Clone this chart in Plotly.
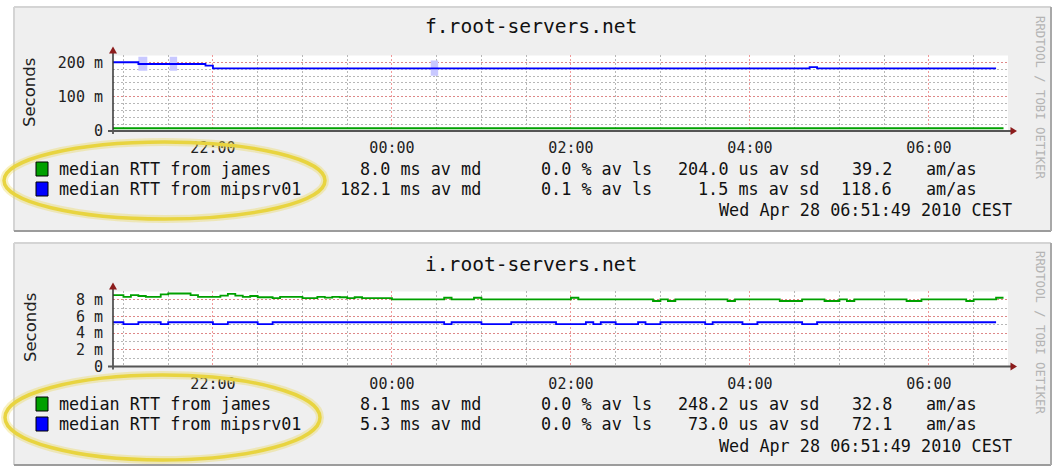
import plotly.graph_objects as go
import pandas as pd

W, H = 1057, 467

# ------------------------------------------------------------------ data
TITLES = ["f.root-servers.net", "i.root-servers.net"]
SERIES_NAMES = ["median RTT from james", "median RTT from mipsrv01"]
SERIES_COLORS = ["#00a000", "#0000ff"]
SMOKE_COLOR = "#c8c8ff"
Y_TITLE = "Seconds"
WATERMARK = "RRDTOOL / TOBI OETIKER"
STAMP = "Wed Apr 28 06:51:49 2010 CEST"
UNIT_LABEL = "am/as"

X_START = "2010-04-27 20:53"
X_END = "2010-04-28 06:53"
MAJOR_TICK0 = "2010-04-27 22:00"

# panel f.root-servers.net (values in ms)
f_james_t = ["20:53", "06:50"]
f_james_ms = [8.0, 8.0]
f_mips_t = ["20:53", "21:10", "21:55", "22:00", "04:40", "04:45", "06:45"]
f_mips_ms = [200, 195, 190, 182.5, 186, 182.5, 182.5]
f_smoke_start = ["21:10", "21:31", "00:26"]
f_smoke_end = ["21:16", "21:36", "00:31"]
f_smoke_lo = [175, 175, 161]
f_smoke_hi = [216, 216, 205]
f_yticks = [0, 100, 200]
f_yticklabels = ["0", "100 m", "200 m"]
f_yrange = [0, 220]
f_stats = [["8.0 ms av md", "0.0 % av ls", "204.0 us av sd", "39.2"],
           ["182.1 ms av md", "0.1 % av ls", "1.5 ms av sd", "118.6"]]

# panel i.root-servers.net (values in ms)
i_james_t = ["20:53", "21:00", "21:05", "21:10", "21:15", "21:25", "21:30", "21:45", "21:50",
             "22:05", "22:10", "22:15", "22:20", "22:25", "22:30", "22:40", "22:45", "23:00",
             "23:10", "23:15", "23:20", "23:25", "23:30", "23:35", "23:40", "00:00", "00:35",
             "00:40", "00:55", "01:00", "02:00", "02:05", "02:55", "03:00", "03:05", "03:10",
             "03:45", "03:50", "04:20", "04:35", "04:50", "05:00", "05:05", "05:10", "05:45",
             "05:55", "06:25", "06:30", "06:45", "06:50"]
i_james_ms = [8.55, 8.35, 8.55, 8.45, 8.35, 8.65, 8.75, 8.55, 8.35,
              8.50, 8.70, 8.50, 8.35, 8.45, 8.30, 8.20, 8.35, 8.20,
              8.35, 8.25, 8.35, 8.30, 8.20, 8.30, 8.20, 8.05, 8.24,
              8.05, 8.24, 8.05, 8.24, 8.05, 7.85, 8.05, 7.85, 8.05,
              7.85, 8.05, 7.85, 8.05, 7.85, 8.05, 7.85, 8.05, 7.85,
              8.05, 7.85, 8.05, 8.24, 8.24]
i_mips_t = ["20:53", "21:00", "21:10", "21:25", "21:30", "22:00", "22:10", "22:30", "22:40",
            "00:35", "00:40", "01:00", "01:20", "01:50", "02:10", "02:15", "02:20", "02:30",
            "02:45", "02:50", "03:00", "03:30", "03:35", "03:55", "04:05", "04:35", "04:45",
            "06:45"]
i_mips_ms = [5.3, 5.07, 5.3, 5.07, 5.3, 5.07, 5.3, 5.07, 5.3,
             5.07, 5.3, 5.07, 5.3, 5.07, 5.3, 5.07, 5.3, 5.07,
             5.3, 5.07, 5.3, 5.07, 5.3, 5.07, 5.3, 5.07, 5.3,
             5.3]
i_yticks = [0, 2, 4, 6, 8]
i_yticklabels = ["0", "2 m", "4 m", "6 m", "8 m"]
i_yrange = [0, 9]
i_stats = [["8.1 ms av md", "0.0 % av ls", "248.2 us av sd", "32.8"],
           ["5.3 ms av md", "0.0 % av ls", "73.0 us av sd", "72.1"]]

# ------------------------------------------------------------------ helpers
def fx(x):
    return x / W


def fy(y):
    return 1 - y / H


def tstamp(hm):
    h = int(hm.split(":")[0])
    day = "2010-04-27" if h >= 12 else "2010-04-28"
    return pd.Timestamp(f"{day} {hm}")


MONO = "DejaVu Sans Mono"
SANS = "DejaVu Sans"
RED_GRID = "rgba(235,120,120,0.75)"
GRAY_GRID = "rgba(175,175,175,0.9)"
ARROW = "#8c1c1c"
PLOT_L, PLOT_R = 113, 1008

panels = [
    dict(xa="x", ya="y", frame=(14, 7, 1051, 231), plot=(55.4, 131), title_y=27,
         ylab_y=93, wm_y=97, rows=(169, 189), stamp_y=210, ell=(4, 142, 325, 219),
         title=TITLES[0], stats=f_stats, yticks=f_yticks, ytl=f_yticklabels,
         yrange=f_yrange, yminor=20,
         series=[(f_james_t, f_james_ms), (f_mips_t, f_mips_ms)]),
    dict(xa="x2", ya="y2", frame=(14, 243, 1051, 465), plot=(291.4, 366.5), title_y=264,
         ylab_y=328, wm_y=332, rows=(404, 424), stamp_y=446, ell=(5, 375, 320, 460),
         title=TITLES[1], stats=i_stats, yticks=i_yticks, ytl=i_yticklabels,
         yrange=i_yrange, yminor=1,
         series=[(i_james_t, i_james_ms), (i_mips_t, i_mips_ms)]),
]

fig = go.Figure()

# smoke (f panel)
s0 = [tstamp(t) for t in f_smoke_start]
s1 = [tstamp(t) for t in f_smoke_end]
fig.add_trace(go.Bar(
    x=[a + (b - a) / 2 for a, b in zip(s0, s1)],
    y=[h - l for h, l in zip(f_smoke_hi, f_smoke_lo)],
    base=f_smoke_lo,
    width=[(b - a).total_seconds() * 1000 for a, b in zip(s0, s1)],
    marker=dict(color=SMOKE_COLOR, line=dict(width=0)),
    xaxis="x", yaxis="y", hoverinfo="skip", showlegend=False))

for p in panels:
    for (tt, vv), col, name in zip(p["series"], SERIES_COLORS, SERIES_NAMES):
        fig.add_trace(go.Scatter(
            x=[tstamp(t) for t in tt], y=vv, mode="lines", name=name,
            line=dict(color=col, width=1.8, shape="hv"),
            xaxis=p["xa"], yaxis=p["ya"], showlegend=False))

shapes = []
annotations = []


def text(x, y, s, size=16.8, xanchor="left", family=MONO, color="#111", angle=0):
    annotations.append(dict(x=fx(x), y=fy(y), xref="paper", yref="paper", text=s,
                            showarrow=False, xanchor=xanchor, yanchor="middle",
                            textangle=angle, borderpad=0,
                            font=dict(family=family, size=size, color=color)))


layout_axes = {}
for idx, p in enumerate(panels):
    x0, y0, x1, y1 = p["frame"]
    # panel background & 3-D frame
    shapes.append(dict(type="rect", xref="paper", yref="paper", x0=fx(x0), x1=fx(x1),
                       y0=fy(y1), y1=fy(y0), fillcolor="#efefef", line=dict(width=0),
                       layer="below"))
    for (ax0, ay0, ax1, ay1, c) in [(x0, y0, x1, y0, "#d4d4d4"), (x0, y0, x0, y1, "#d4d4d4"),
                                   (x0, y1, x1, y1, "#9c9c9c"), (x1, y0, x1, y1, "#a8a8a8")]:
        shapes.append(dict(type="line", xref="paper", yref="paper", x0=fx(ax0), x1=fx(ax1),
                           y0=fy(ay0), y1=fy(ay1), line=dict(color=c, width=2), layer="below"))
    pt, pb = p["plot"]
    shapes.append(dict(type="rect", xref="paper", yref="paper", x0=fx(PLOT_L), x1=fx(PLOT_R),
                       y0=fy(pb), y1=fy(pt), fillcolor="white", line=dict(width=0),
                       layer="below"))
    # axis lines + arrows
    shapes.append(dict(type="line", xref="paper", yref="paper", x0=fx(PLOT_L), x1=fx(PLOT_L),
                       y0=fy(pb + 3), y1=fy(pt - 3), line=dict(color="#333", width=1.5)))
    shapes.append(dict(type="line", xref="paper", yref="paper", x0=fx(PLOT_L - 5), x1=fx(1011),
                       y0=fy(pb), y1=fy(pb), line=dict(color="#555", width=2)))
    tip_y = pt - 9
    shapes.append(dict(type="path", xref="paper", yref="paper",
                       path=f"M {fx(PLOT_L-4)} {fy(tip_y+7)} L {fx(PLOT_L+4)} {fy(tip_y+7)} L {fx(PLOT_L)} {fy(tip_y)} Z",
                       fillcolor=ARROW, line=dict(width=0)))
    shapes.append(dict(type="path", xref="paper", yref="paper",
                       path=f"M {fx(1010.5)} {fy(pb-4)} L {fx(1010.5)} {fy(pb+4)} L {fx(1017)} {fy(pb)} Z",
                       fillcolor=ARROW, line=dict(width=0)))
    # legend swatches
    for r, col in zip(p["rows"], SERIES_COLORS):
        shapes.append(dict(type="rect", xref="paper", yref="paper", x0=fx(36), x1=fx(48),
                           y0=fy(r + 7), y1=fy(r - 7), fillcolor=col,
                           line=dict(color="#000", width=1)))
    # highlight ellipse
    ex0, ey0, ex1, ey1 = p["ell"]
    shapes.append(dict(type="circle", xref="paper", yref="paper", x0=fx(ex0), x1=fx(ex1),
                       y0=fy(ey1), y1=fy(ey0), line=dict(color="rgba(235,215,80,0.35)", width=8)))
    shapes.append(dict(type="circle", xref="paper", yref="paper", x0=fx(ex0), x1=fx(ex1),
                       y0=fy(ey1), y1=fy(ey0), line=dict(color="#e8d440", width=3.5)))

    # texts
    text(531, p["title_y"], p["title"], size=19.6, xanchor="center")
    text(30, p["ylab_y"], Y_TITLE, size=16.5, xanchor="center", family=SANS, color="#222",
         angle=-90)
    text(1040, p["wm_y"], WATERMARK, size=12.3, xanchor="center", color="#b4b4b4", angle=90)
    for r, name, st in zip(p["rows"], SERIES_NAMES, p["stats"]):
        text(58, r, name)
        text(482, r, st[0], xanchor="right")
        text(653, r, st[1], xanchor="right")
        text(820, r, st[2], xanchor="right")
        text(893, r, st[3], xanchor="right")
        text(925, r, UNIT_LABEL)
    text(1013, p["stamp_y"], STAMP, xanchor="right")

    # axes
    xname = "xaxis" if idx == 0 else "xaxis2"
    yname = "yaxis" if idx == 0 else "yaxis2"
    layout_axes[xname] = dict(
        type="date", domain=[fx(PLOT_L), fx(PLOT_R)], range=[X_START, X_END],
        tick0=MAJOR_TICK0, dtick=7200000, tickformat="%H:%M", anchor=p["ya"],
        showgrid=True, gridcolor=RED_GRID, griddash="2px,2px", gridwidth=1,
        ticks="", showline=False, zeroline=False, fixedrange=True,
        tickfont=dict(family=MONO, size=15, color="#222"), ticklabelstandoff=6,
        minor=dict(tick0=MAJOR_TICK0, dtick=1800000, showgrid=True, gridcolor=GRAY_GRID,
                   griddash="2px,2px", gridwidth=1))
    layout_axes[yname] = dict(
        domain=[fy(pb), fy(pt)], range=p["yrange"], anchor=p["xa"],
        tickmode="array", tickvals=p["yticks"], ticktext=p["ytl"],
        showgrid=True, gridcolor=RED_GRID, griddash="2px,2px", gridwidth=1,
        ticks="", showline=False, zeroline=False, fixedrange=True,
        tickfont=dict(family=MONO, size=15, color="#222"), ticklabelstandoff=9,
        minor=dict(dtick=p["yminor"], tick0=0, showgrid=True, gridcolor=GRAY_GRID,
                   griddash="2px,2px", gridwidth=1))

fig.update_layout(
    width=W, height=H, margin=dict(l=0, r=0, t=0, b=0, autoexpand=False),
    paper_bgcolor="white", plot_bgcolor="rgba(0,0,0,0)",
    showlegend=False, barmode="overlay",
    shapes=shapes, annotations=annotations, **layout_axes)

PAGE_CSS = ("var s='margin:0;padding:0;overflow:hidden;width:1057px;height:467px;';"
            "document.documentElement.style.cssText=s;document.body.style.cssText=s;"
            "var gd=document.getElementById('{plot_id}');"
            "gd.parentElement.style.cssText=s+'display:block;';"
            "gd.style.display='block';")

fig.write_html("out.html", config={"displayModeBar": False, "responsive": False},
               post_script=PAGE_CSS)
